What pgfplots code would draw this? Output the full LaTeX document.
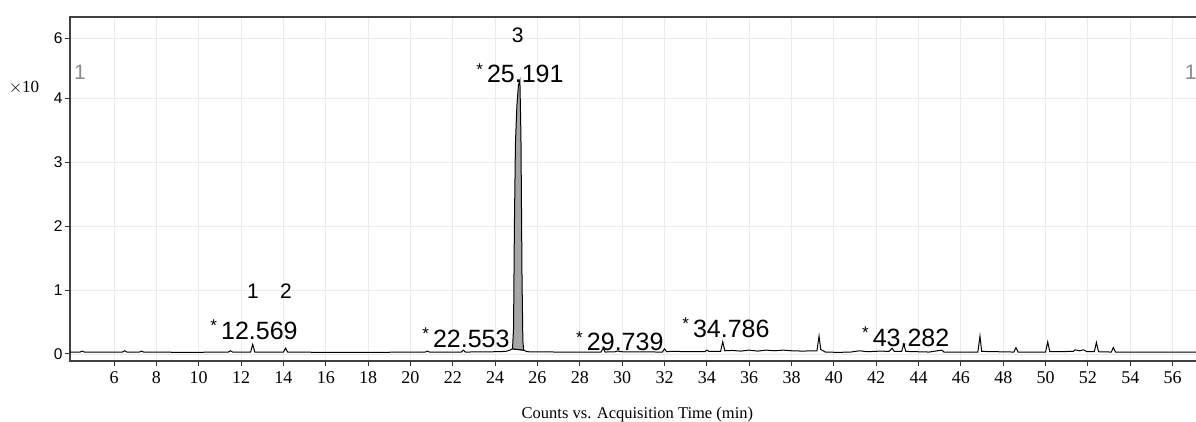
\documentclass[border=0pt]{standalone}
\usepackage{fontspec}
\setmainfont{Liberation Serif}
\newfontfamily\arial{Liberation Sans}
\usepackage{pgfplots}
\pgfplotsset{compat=1.18}
\newcommand{\ann}[1]{\raisebox{0.3em}{\fontsize{17}{17}\selectfont*}\,#1}
\begin{document}
\begin{tikzpicture}
\path[use as bounding box] (-70pt,-60pt) rectangle (1126pt,361pt);
\begin{axis}[
  at={(0,0)}, anchor=south west, scale only axis,
  width=1128pt, height=344pt,
  xmin=3.92, xmax=57.2, ymin=-0.11, ymax=5.27,
  axis line style={black!75, line width=1.6pt},
  xtick={6,8,...,56},
  ytick={0,1,2,3,4,4.94}, yticklabels={0,1,2,3,4,6},
  /pgf/number format/assume math mode=true,
  xticklabel style={font=\fontsize{18}{18}\selectfont, yshift=-2pt},
  yticklabel style={font=\arial\fontsize{15.5}{15.5}\selectfont, xshift=1pt},
  tick style={black!80, line width=1pt},
  tick align=outside, major tick length=5pt,
  xtick pos=bottom, ytick pos=left,
  grid=major,
  major grid style={black!8, line width=0.9pt},
  ymajorgrids=true,
  xlabel={Counts vs. Acquisition Time (min)},
  xlabel style={font=\fontsize{16.5}{16.5}\selectfont, at={(axis description cs:0.503,-0.125)}, anchor=north},
  clip mode=individual,
]
% baseline signal with small peaks
\addplot[black, line width=1pt] coordinates {
(3.92,0.03) (4.4,0.03) (4.5,0.045) (4.6,0.03) (5.5,0.03)
(6.4,0.03) (6.5,0.05) (6.6,0.03) (7.2,0.03) (7.3,0.045) (7.4,0.03)
(9.5,0.025) (11.4,0.03) (11.5,0.05) (11.6,0.03)
(12.45,0.03) (12.55,0.15) (12.65,0.03)
(14.0,0.03) (14.1,0.09) (14.2,0.03)
(16.0,0.025) (18.0,0.025) (20.7,0.03) (20.8,0.045) (20.9,0.03)
(22.4,0.03) (22.5,0.06) (22.6,0.03)
(24.0,0.035) (24.5,0.04) (24.7,0.06) (24.8,0.08)
(25.35,0.06) (25.5,0.035)
(27.0,0.03) (29.0,0.03) (29.1,0.09) (29.2,0.03)
(29.7,0.035) (29.8,0.05) (29.9,0.035)
(31.9,0.03) (32.0,0.08) (32.1,0.035) (32.3,0.04)
(33.9,0.035) (34.0,0.06) (34.1,0.04)
(34.65,0.04) (34.75,0.19) (34.85,0.05)
(35.2,0.055) (35.6,0.045) (36.0,0.06) (36.4,0.045) (36.8,0.06) (37.2,0.05) (37.6,0.06) (38.0,0.05)
(38.5,0.045) (39.2,0.05) (39.3,0.28) (39.38,0.07) (39.6,0.03)
(40.2,0.025) (40.8,0.03) (41.2,0.05) (41.6,0.035) (42.2,0.045) (42.6,0.04)
(42.75,0.09) (42.85,0.04) (43.2,0.04) (43.3,0.15) (43.4,0.04)
(44.5,0.03) (45.1,0.06) (45.2,0.03)
(46.8,0.03) (46.9,0.28) (46.98,0.04)
(48.5,0.03) (48.6,0.1) (48.7,0.03)
(50.0,0.03) (50.1,0.19) (50.2,0.035)
(51.3,0.04) (51.4,0.065) (51.6,0.05) (51.8,0.065) (51.95,0.035)
(52.3,0.035) (52.4,0.18) (52.5,0.035)
(53.1,0.03) (53.2,0.1) (53.3,0.03)
(55.0,0.03) (57.2,0.03)
};
% main peak (filled)
\addplot[black, line width=1pt, fill=black!35] coordinates {
(24.82,0.08) (24.87,0.4) (24.91,2.0) (24.96,3.3) (25.03,3.9) (25.1,4.2) (25.17,4.28)
(25.22,3.4) (25.27,1.2) (25.31,0.2) (25.35,0.06)
} -- cycle;
% annotations
\begin{scope}[font=\arial\fontsize{25}{25}\selectfont]
\node at (axis cs:12.61,0.375) {\ann{12.569}};
\node at (axis cs:22.62,0.25) {\ann{22.553}};
\node at (axis cs:25.17,4.39) {\ann{25.191}};
\node at (axis cs:29.89,0.2) {\ann{29.739}};
\node at (axis cs:34.9,0.41) {\ann{34.786}};
\node at (axis cs:43.39,0.27) {\ann{43.282}};
\end{scope}
\begin{scope}[font=\arial\fontsize{21}{21}\selectfont]
\node at (axis cs:12.56,0.98) {1};
\node at (axis cs:14.12,0.98) {2};
\node at (axis cs:25.07,4.98) {3};
\node[black!45] at (axis cs:4.39,4.41) {1};
\node[black!45] at (axis cs:56.85,4.41) {1};
\end{scope}
\end{axis}
\node[font=\fontsize{17}{17}\selectfont] at (-46pt,273pt) {$\times$10};
\end{tikzpicture}
\end{document}
